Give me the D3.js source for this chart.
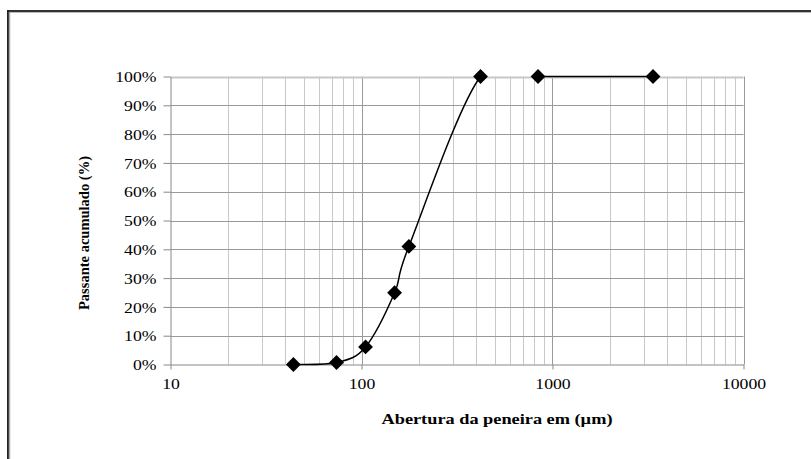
<!DOCTYPE html>
<html><head><meta charset="utf-8">
<script src="https://cdn.jsdelivr.net/npm/d3@7"></script>
</head><body style="margin:0;padding:0;background:#fff;">
<svg id="chart" width="811" height="459" style="display:block"></svg>
<script>
// Sieve openings (µm) and cumulative passing (%)
const aberturas = [44, 74, 105, 149, 177, 420, 840, 3360];
const passante = [0, 0.7, 6.1, 24.9, 41, 100, 100, 100];
// segments actually drawn (the segment 420 -> 840 is not drawn in the original)
const segmentosDesenhados = [0, 1, 2, 3, 4, 6];
const xTicks = [10, 100, 1000, 10000];
const yTicks = [0, 10, 20, 30, 40, 50, 60, 70, 80, 90, 100];
const xTitle = "Abertura da peneira em (µm)";
const yTitle = "Passante acumulado (%)";

const FONT = '"Liberation Serif"';
const STRETCH = 1.18; // the original picture is slightly widened horizontally
const svg = d3.select("#chart");

function widen(sel) {
  sel.each(function () {
    const w = this.getComputedTextLength();
    d3.select(this).attr("textLength", w * STRETCH).attr("lengthAdjust", "spacingAndGlyphs");
  });
}

// frame
svg.append("line").attr("x1", 7).attr("y1", 11).attr("x2", 811).attr("y2", 11).attr("stroke", "#333").attr("stroke-width", 2);
svg.append("line").attr("x1", 8).attr("y1", 10).attr("x2", 8).attr("y2", 459).attr("stroke", "#222").attr("stroke-width", 2);
svg.append("line").attr("x1", 10).attr("y1", 12.5).attr("x2", 811).attr("y2", 12.5).attr("stroke", "#bbb").attr("stroke-width", 1);
svg.append("line").attr("x1", 9.5).attr("y1", 12).attr("x2", 9.5).attr("y2", 459).attr("stroke", "#aaa").attr("stroke-width", 1.5);

const x = d3.scaleLog().domain([10, 10000]).range([170.5, 743.5]);
const y = d3.scaleLinear().domain([0, 100]).range([364.5, 76.5]);

const g = svg.append("g");

// minor vertical grid
const minor = [];
for (let d = 10; d < 10000; d *= 10) for (let k = 2; k <= 9; k++) minor.push(d * k);
g.selectAll(".vminor").data(minor).join("line")
  .attr("x1", d => Math.round(x(d)) + 0.5).attr("x2", d => Math.round(x(d)) + 0.5)
  .attr("y1", y(100)).attr("y2", y(0)).attr("stroke", "#c8c8c8").attr("stroke-width", 1);
// major vertical grid
g.selectAll(".vmajor").data(xTicks.slice(1)).join("line")
  .attr("x1", d => Math.round(x(d)) + 0.5).attr("x2", d => Math.round(x(d)) + 0.5)
  .attr("y1", y(100)).attr("y2", y(0)).attr("stroke", "#999").attr("stroke-width", 1);
// horizontal grid
g.selectAll(".hgrid").data(yTicks.slice(1)).join("line")
  .attr("x1", x(10)).attr("x2", x(10000))
  .attr("y1", d => Math.round(y(d)) + 0.5).attr("y2", d => Math.round(y(d)) + 0.5)
  .attr("stroke", d => d === 100 ? "#c8c8c8" : "#999").attr("stroke-width", d => d === 100 ? 2 : 1);

// axes
const xAxis = d3.axisBottom(x).tickValues(xTicks).tickFormat(d3.format("d")).tickSize(5).tickSizeOuter(0);
const gx = svg.append("g").attr("transform", `translate(0,${y(0)})`).call(xAxis);
gx.attr("font-family", null).attr("font-size", null);
gx.select(".domain").attr("stroke", "#888");
gx.selectAll(".tick line").attr("stroke", "#888");
gx.selectAll("text").style("font-family", FONT).style("font-size", "15px").attr("fill", "#000")
  .attr("y", 24.5).attr("dy", 0).call(widen);

const yAxis = d3.axisLeft(y).tickValues(yTicks).tickFormat(d => d + "%").tickSize(7).tickSizeOuter(0);
const gy = svg.append("g").attr("transform", `translate(${x(10)},0)`).call(yAxis);
gy.attr("font-family", null).attr("font-size", null);
gy.select(".domain").attr("stroke", "#888");
gy.selectAll(".tick line").attr("stroke", "#888");
gy.selectAll("text").style("font-family", FONT).style("font-size", "15px").attr("fill", "#000")
  .attr("x", -14).attr("dy", "0.35em").call(widen);

// titles
svg.append("text").attr("x", 497).attr("y", 424).attr("text-anchor", "middle")
  .style("font-family", FONT).style("font-weight", "bold").style("font-size", "14px")
  .attr("textLength", 231).attr("lengthAdjust", "spacingAndGlyphs").text(xTitle);
svg.append("text").attr("transform", "translate(89,233) rotate(-90)").attr("text-anchor", "middle")
  .style("font-family", FONT).style("font-weight", "bold").style("font-size", "14px")
  .attr("textLength", 154).attr("lengthAdjust", "spacingAndGlyphs").text(yTitle);

// smoothed line (uniform Catmull-Rom over all points, as a spreadsheet "smoothed line")
const P = aberturas.map((a, i) => [x(a), y(passante[i])]);
const n = P.length;
const path = d3.path();
segmentosDesenhados.forEach(i => {
  const p0 = P[Math.max(0, i - 1)], p1 = P[i], p2 = P[i + 1], p3 = P[Math.min(n - 1, i + 2)];
  const c1 = [p1[0] + (p2[0] - p0[0]) / 6, p1[1] + (p2[1] - p0[1]) / 6];
  const c2 = [p2[0] - (p3[0] - p1[0]) / 6, p2[1] - (p3[1] - p1[1]) / 6];
  path.moveTo(p1[0], p1[1]);
  path.bezierCurveTo(c1[0], c1[1], c2[0], c2[1], p2[0], p2[1]);
});
svg.append("path").attr("d", path.toString())
  .attr("fill", "none").attr("stroke", "#000").attr("stroke-width", 1.5).attr("stroke-linejoin", "round");

// markers
const sym = d3.symbol().type(d3.symbolSquare).size(110);
svg.selectAll(".mk").data(P).join("path")
  .attr("d", sym)
  .attr("transform", d => `translate(${d[0]},${d[1]}) rotate(45)`)
  .attr("fill", "#000");
</script>
</body></html>
